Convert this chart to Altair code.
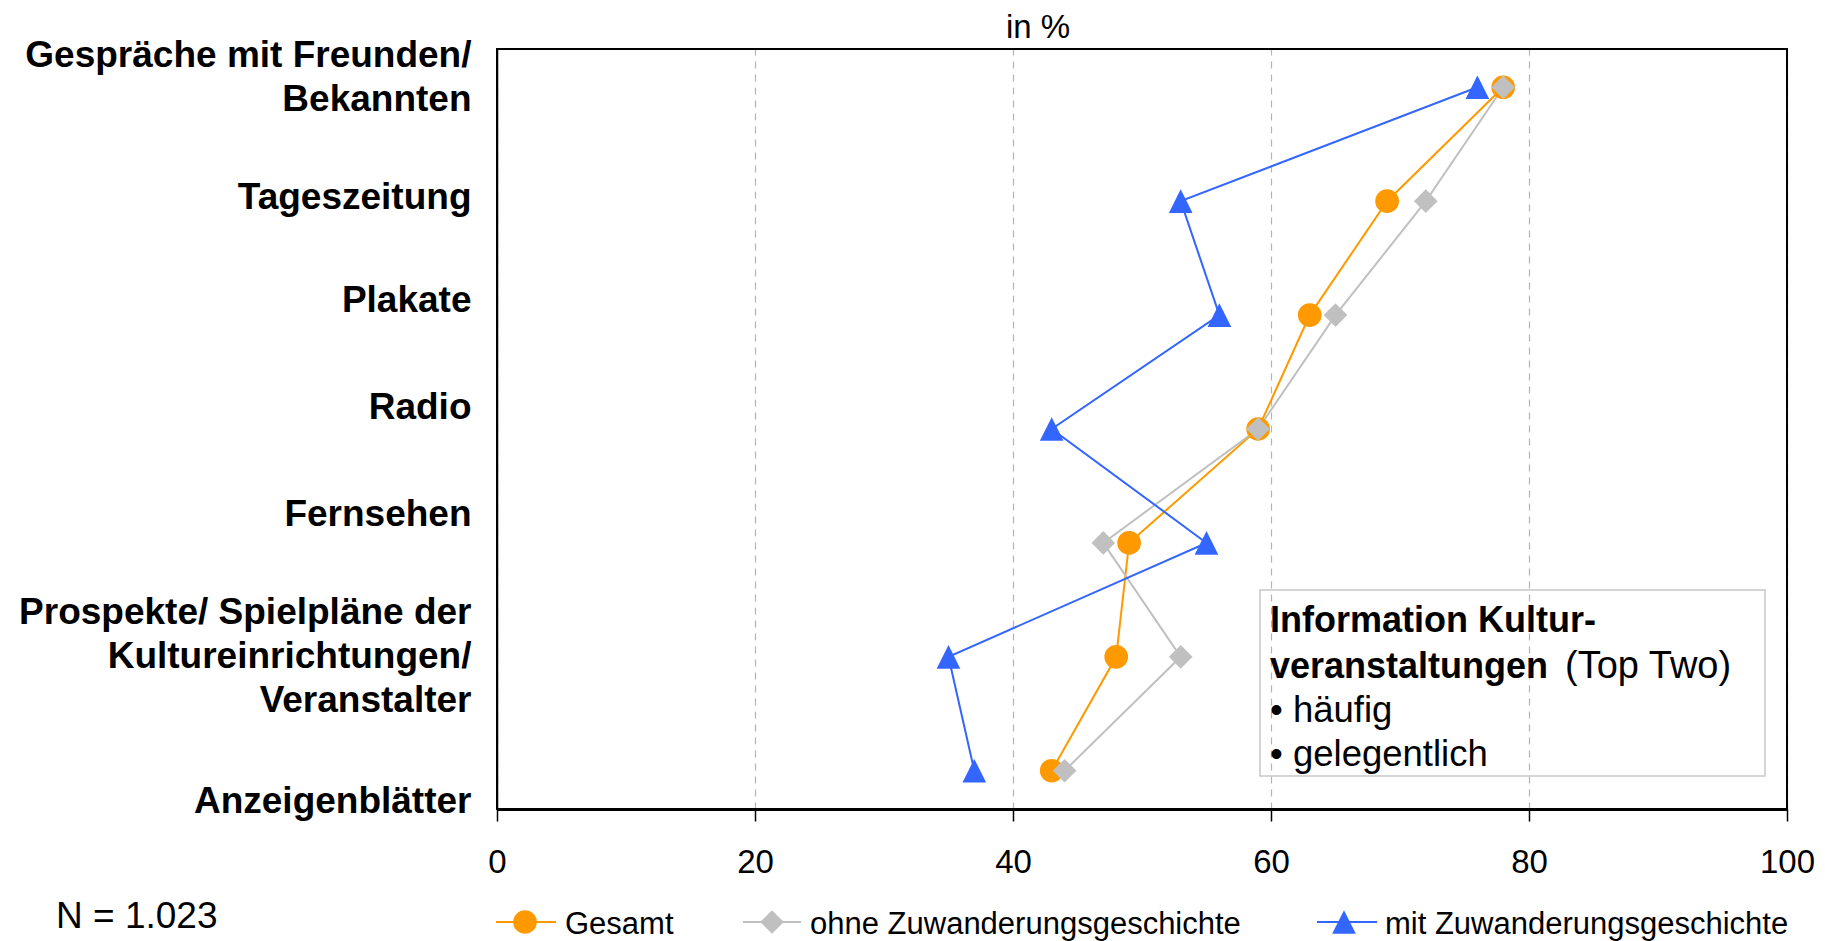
import json
import altair as alt
import pandas as pd

# ---------------- data ----------------
categories = [
    "Gespräche mit Freunden/\nBekannten",
    "Tageszeitung",
    "Plakate",
    "Radio",
    "Fernsehen",
    "Prospekte/ Spielpläne der\nKultureinrichtungen/\nVeranstalter",
    "Anzeigenblätter",
]
series_names = ["Gesamt", "ohne Zuwanderungsgeschichte", "mit Zuwanderungsgeschichte"]
gesamt = [78, 69, 63, 59, 49, 48, 43]
ohne = [78, 72, 65, 59, 47, 53, 44]
mit = [76, 53, 56, 43, 55, 35, 37]
x_ticks = [0, 20, 40, 60, 80, 100]
title_text = "in %"
note_text = "N = 1.023"
box_lines_bold = ["Information Kultur-", "veranstaltungen"]
box_suffix = "(Top Two)"
box_items = ["• häufig", "• gelegentlich"]

# ---------------- styles ----------------
FONT = "Liberation Sans"
colors = ["#FF9900", "#C0C0C0", "#3366FF"]
shapes = ["circle", "diamond", "M0,-1L1,1L-1,1Z"]
label_shift = {  # pixel nudges of the category labels (style only)
    categories[0]: -32,
    categories[1]: -4,
    categories[2]: -15,
    categories[3]: -22,
    categories[4]: -28,
    categories[5]: -44,
    categories[6]: 31,
}

rows = []
for s, vals in zip(series_names, [gesamt, ohne, mit]):
    for i, (c, v) in enumerate(zip(categories, vals)):
        rows.append({"Serie": s, "Kategorie": c, "Wert": v, "idx": i})
df = pd.DataFrame(rows)

W, H = 1290, 760

offset_cond = [
    {"test": "datum.value === " + json.dumps(k, ensure_ascii=False), "value": v}
    for k, v in label_shift.items()
]

x_enc = alt.X(
    "Wert:Q",
    scale=alt.Scale(domain=[0, 100], nice=False, zero=True),
    axis=alt.Axis(
        values=x_ticks,
        title=None,
        labelFontSize=33,
        labelFont=FONT,
        labelColor="black",
        labelPadding=25,
        labelFlush=False,
        tickSize=12,
        tickWidth=1.5,
        tickColor="black",
        domainColor="black",
        domainWidth=3,
        grid=True,
        gridDash=[7, 6],
        gridColor="#B4B4B4",
        gridWidth=1.2,
    ),
)
y_enc = alt.Y(
    "Kategorie:N",
    sort=categories,
    scale=alt.Scale(type="point", padding=0.336),
    axis=alt.Axis(
        title=None,
        ticks=False,
        grid=False,
        domainColor="black",
        domainWidth=1.5,
        labelFont=FONT,
        labelFontSize=37,
        labelFontWeight="bold",
        labelColor="black",
        labelPadding=26,
        labelLimit=0,
        labelLineHeight=44,
        labelExpr="split(datum.label, '\\n')",
        labelOffset={"condition": offset_cond, "value": 0},
    ),
)
color_enc = alt.Color(
    "Serie:N", scale=alt.Scale(domain=series_names, range=colors), legend=None
)
shape_enc = alt.Shape(
    "Serie:N", scale=alt.Scale(domain=series_names, range=shapes), legend=None
)

base = alt.Chart(df)
lines = base.mark_line(strokeWidth=2).encode(
    x=x_enc, y=y_enc, color=color_enc, order=alt.Order("idx:Q")
)
points = base.mark_point(filled=True, opacity=1, size=560, strokeWidth=0).encode(
    x="Wert:Q", y=alt.Y("Kategorie:N", sort=categories), color=color_enc, shape=shape_enc
)

one = alt.Data(values=[{"k": 0}])

# plot frame
frame = alt.Chart(one).mark_rect(
    fill="white", fillOpacity=0, stroke="black", strokeWidth=2
).encode(x=alt.value(0), x2=alt.value(W), y=alt.value(0), y2=alt.value(H))

# heading "in %"
heading = alt.Chart(one).mark_text(
    align="center", baseline="alphabetic", font=FONT, fontSize=33, color="black"
).encode(x=alt.value(541), y=alt.value(-11), text=alt.value(title_text))

# box with the description
box = alt.Chart(one).mark_rect(
    fill="white", fillOpacity=0, stroke="#C8C8C8", strokeWidth=1.5
).encode(x=alt.value(763), x2=alt.value(1268), y=alt.value(541), y2=alt.value(727))

box_layers = [box]
box_y = [583, 629, 673, 717]
for txt, yy in zip(box_lines_bold, box_y[:2]):
    box_layers.append(
        alt.Chart(one)
        .mark_text(align="left", baseline="alphabetic", font=FONT, fontSize=36,
                   fontWeight="bold", color="black")
        .encode(x=alt.value(773), y=alt.value(yy), text=alt.value(txt))
    )
box_layers.append(
    alt.Chart(one)
    .mark_text(align="left", baseline="alphabetic", font=FONT, fontSize=38, color="black")
    .encode(x=alt.value(1068), y=alt.value(box_y[1]), text=alt.value(box_suffix))
)
for txt, yy in zip(box_items, box_y[2:]):
    box_layers.append(
        alt.Chart(one)
        .mark_text(align="left", baseline="alphabetic", font=FONT, fontSize=36.5, color="black")
        .encode(x=alt.value(773), y=alt.value(yy), text=alt.value(txt))
    )

# manual legend at the bottom
leg_pos = [(-1, 59, 28, 68), (246, 304, 275, 313), (820, 880, 847, 888)]
LEG_Y = 873
legend_layers = []
for name, col, shp, (x1, x2, xm, xt) in zip(series_names, colors, shapes, leg_pos):
    legend_layers.append(
        alt.Chart(one).mark_rule(color=col, strokeWidth=2).encode(
            x=alt.value(x1), x2=alt.value(x2), y=alt.value(LEG_Y)
        )
    )
    legend_layers.append(
        alt.Chart(one).mark_point(filled=True, opacity=1, size=560, shape=shp,
                                  color=col, strokeWidth=0).encode(
            x=alt.value(xm), y=alt.value(LEG_Y)
        )
    )
    legend_layers.append(
        alt.Chart(one).mark_text(align="left", baseline="alphabetic", font=FONT,
                                 fontSize=31, color="black").encode(
            x=alt.value(xt), y=alt.value(LEG_Y + 12), text=alt.value(name)
        )
    )

note = alt.Chart(one).mark_text(
    align="left", baseline="alphabetic", font=FONT, fontSize=37, color="black"
).encode(x=alt.value(-441), y=alt.value(879), text=alt.value(note_text))

chart = (
    alt.layer(lines, points, frame, heading, *box_layers, *legend_layers, note)
    .properties(
        width=W,
        height=H,
        autosize=alt.AutoSizeParams(type="none"),
        padding={"left": 489, "top": 41, "right": 30, "bottom": 132},
    )
    .configure_view(stroke="black", strokeWidth=1.5)
    .configure(background="white")
)

chart.save("out.html", embed_options={"renderer": "svg", "actions": False})
